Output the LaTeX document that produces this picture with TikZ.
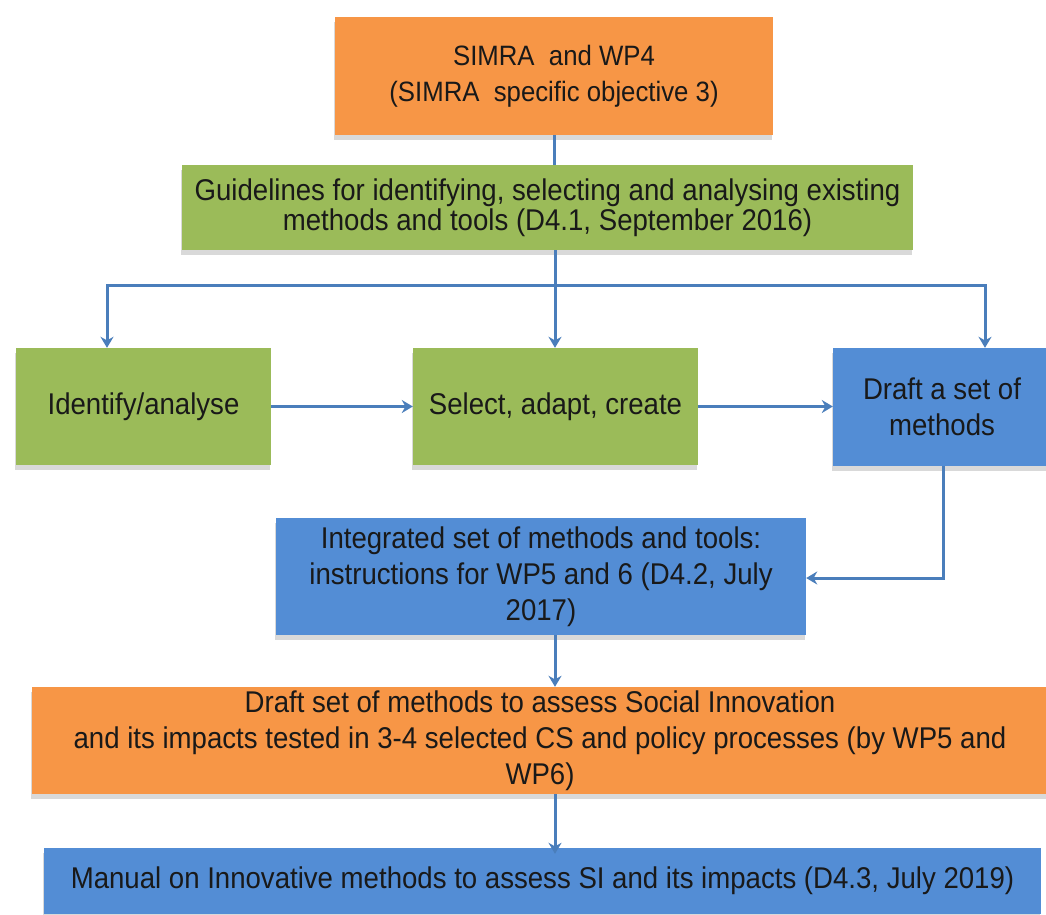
\documentclass[tikz,border=0pt]{standalone}
\usepackage{fontspec}
\setmainfont{Liberation Sans}[FakeStretch=0.92]
\usetikzlibrary{arrows.meta,shadows}
\definecolor{boxorange}{HTML}{F79646}
\definecolor{boxgreen}{HTML}{9BBB59}
\definecolor{boxblue}{HTML}{538DD5}
\definecolor{linkblue}{HTML}{4A7EBB}
\tikzset{
  box/.style={rectangle, inner sep=0pt, align=center, text=black!90,
    font=\fontsize{30}{36}\selectfont,
    drop shadow={shadow xshift=-1pt, shadow yshift=-5pt, opacity=0.15, fill=black}},
  orangebox/.style={box, fill=boxorange},
  greenbox/.style={box, fill=boxgreen},
  bluebox/.style={box, fill=boxblue},
  link/.style={draw=linkblue, line width=3pt},
  arrowlink/.style={link, -{Stealth[length=11pt,width=13pt]}},
}
\begin{document}
\begin{tikzpicture}[x=1pt,y=-1pt]
\useasboundingbox (0,0) rectangle (1046,914);
\clip (0,0) rectangle (1046,914);
\fill[white] (0,0) rectangle (1046,914);

\node[orangebox, minimum width=438pt, minimum height=118pt, font=\fontsize{28}{36}\selectfont]
  (obj) at (554,76) {SIMRA\ \ and WP4\\(SIMRA\ \ specific objective 3)};
\node[greenbox, minimum width=731pt, minimum height=85pt, font=\fontsize{30}{30}\selectfont]
  (guide) at (547.5,207.5) {Guidelines for identifying, selecting and analysing existing\\methods and tools (D4.1, September 2016)};
\node[greenbox, minimum width=255pt, minimum height=117pt]
  (ident) at (143.5,406.5) {Identify/analyse};
\node[greenbox, minimum width=285pt, minimum height=117pt]
  (select) at (555.5,406.5) {Select, adapt, create};
\node[bluebox, minimum width=218pt, minimum height=118pt]
  (draft) at (942,407) {Draft a set of\\methods};
\node[bluebox, minimum width=530pt, minimum height=117pt]
  (integ) at (541,576.5) {Integrated set of methods and tools:\\instructions for WP5 and 6 (D4.2, July\\2017)};
\node[orangebox, minimum width=1016pt, minimum height=107pt]
  (test) at (540,740.5) {Draft set of methods to assess Social Innovation\\and its impacts tested in 3-4 selected CS and policy processes (by WP5 and\\WP6)};
\node[bluebox, minimum width=997pt, minimum height=66pt]
  (manual) at (542.5,881) {Manual on Innovative methods to assess SI and its impacts (D4.3, July 2019)};

\coordinate (jc) at (555,285);
\coordinate (jl) at (107,285);
\coordinate (jr) at (985,285);
\coordinate (dk) at (943,578);

\draw[link] (obj.south) -- (obj.south |- guide.north);
\draw[link] (guide.south -| jc) -- (jc);
\draw[arrowlink] (jc) -| (ident.north -| jl);
\draw[arrowlink] (jc) -| (draft.north -| jr);
\draw[arrowlink] (jc) -- (select.north -| jc);
\draw[arrowlink] (ident.east) -- (select.west);
\draw[arrowlink] (select.east) -- (select.east -| draft.west);
\draw[arrowlink] (draft.south -| dk) |- (integ.east |- dk);
\draw[arrowlink] (integ.south -| jc) -- (test.north -| jc);
\draw[arrowlink] (test.south -| jc) -- ([yshift=-6pt]manual.north -| jc);
\end{tikzpicture}
\end{document}
